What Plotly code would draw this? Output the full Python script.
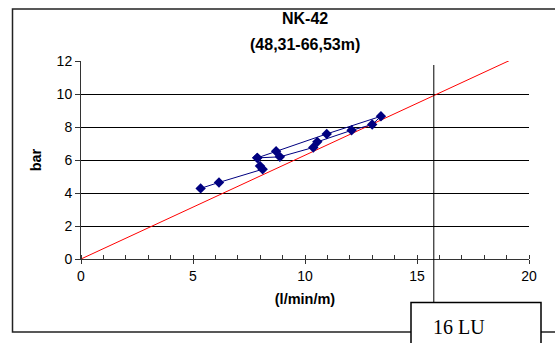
import plotly.graph_objects as go

# Measured flow vs pressure readings (ascending then descending stages)
flow = [5.34, 6.16, 8.11, 7.99, 7.87, 8.71, 10.97, 13.39, 13.00, 12.08, 10.55, 10.37, 8.88, 7.87]
pressure = [4.28, 4.64, 5.44, 5.64, 6.13, 6.53, 7.58, 8.65, 8.15, 7.80, 7.10, 6.76, 6.19, 6.13]

# Reference line through the origin
ref_x = [0, 19.4]
ref_y = [0, 12.2]

# Lugeon marker position
lu_x = 15.75

title_lines = ["NK-42", "(48,31-66,53m)"]
lu_label = "16 LU"

W, H = 555, 343
L, R, T, B = 81, 26, 61, 84
pw, ph = W - L - R, H - T - B


def px(x):
    return (x - L) / pw


def py(y):
    return (H - B - y) / ph


fig = go.Figure()
fig.add_trace(go.Scatter(x=ref_x, y=ref_y, mode="lines",
                         line=dict(color="#ff0000", width=1), showlegend=False))
fig.add_trace(go.Scatter(x=flow, y=pressure, mode="lines+markers",
                         line=dict(color="#000080", width=1),
                         marker=dict(symbol="diamond", size=8, color="#000080"),
                         showlegend=False))

# outer chart frame (open on the right, running off the page)
fig.add_shape(type="rect", xref="paper", yref="paper",
              x0=px(12.5), x1=px(570), y0=py(332), y1=py(9),
              line=dict(color="#222", width=1.5), fillcolor="rgba(0,0,0,0)", layer="below")
# vertical marker line
fig.add_shape(type="line", xref="x", yref="paper", x0=lu_x, x1=lu_x,
              y0=py(302), y1=py(65), line=dict(color="#000", width=1))
# label box
fig.add_shape(type="rect", xref="paper", yref="paper",
              x0=px(411), x1=px(541), y0=py(350), y1=py(302.5),
              line=dict(color="#000", width=1.5), fillcolor="white")
fig.add_annotation(text=lu_label, xref="paper", yref="paper", x=px(459), y=py(327),
                   showarrow=False, xanchor="center", yanchor="middle",
                   font=dict(family="Liberation Serif", size=20, color="#000"))

# two-line chart title
for text, ypix in zip(title_lines, [18, 44]):
    fig.add_annotation(text=f"<b>{text}</b>", xref="paper", yref="paper",
                       x=0.5, y=py(ypix), showarrow=False,
                       xanchor="center", yanchor="middle",
                       font=dict(family="Liberation Sans, Arial", size=16, color="#000"))

fig.update_layout(
    width=W, height=H, autosize=False,
    margin=dict(l=L, r=R, t=T, b=B),
    paper_bgcolor="white", plot_bgcolor="white",
    font=dict(family="Liberation Sans, Arial", size=13, color="#000"),
    xaxis=dict(range=[0, 20], tickvals=[0, 5, 10, 15, 20], showgrid=False, zeroline=False,
               showline=True, linecolor="#333", linewidth=1,
               ticks="outside", ticklen=4, tickcolor="#333",
               minor=dict(dtick=1, ticks="inside", ticklen=4, tickcolor="#333", showgrid=False),
               title=dict(text="<b>(l/min/m)</b>", standoff=11,
                          font=dict(size=14.5)),
               tickfont=dict(size=14)),
    yaxis=dict(range=[0, 12], dtick=2, showgrid=True, gridcolor="#000", gridwidth=1,
               zeroline=False, showline=True, linecolor="#333", linewidth=1,
               ticks="outside", ticklen=5, tickcolor="#333",
               title=dict(text="<b>bar</b>", standoff=11, font=dict(size=14.5)),
               tickfont=dict(size=14)),
)

fig.write_html("out.html", config={"responsive": False})
